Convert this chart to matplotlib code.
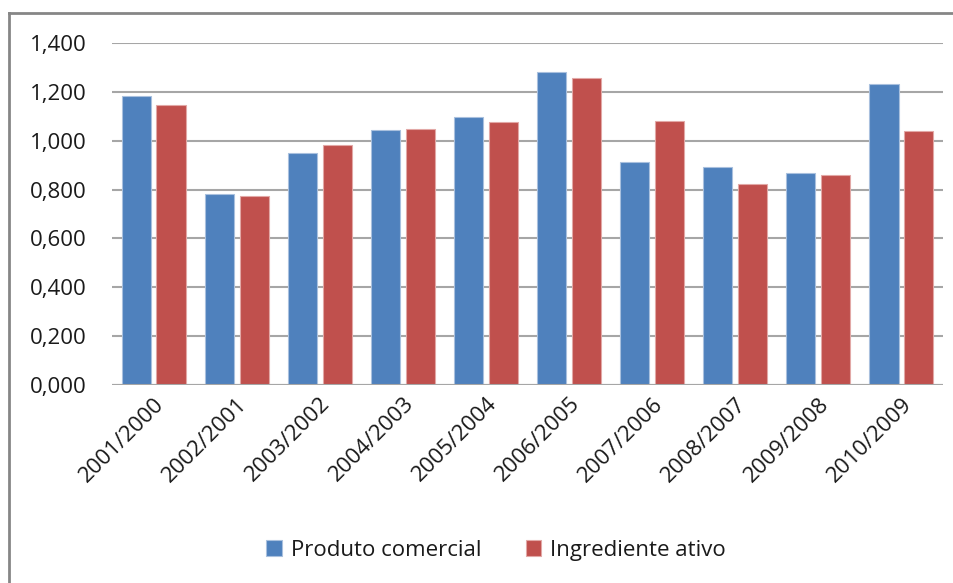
import matplotlib.pyplot as plt
import numpy as np
from matplotlib.ticker import FuncFormatter

plt.rcParams['font.family'] = ['Open Sans', 'DejaVu Sans']

periods = ['2001/2000', '2002/2001', '2003/2002', '2004/2003', '2005/2004',
           '2006/2005', '2007/2006', '2008/2007', '2009/2008', '2010/2009']
produto_comercial = [1.185, 0.781, 0.949, 1.045, 1.097, 1.281, 0.912, 0.892, 0.866, 1.234]
ingrediente_ativo = [1.148, 0.772, 0.981, 1.050, 1.076, 1.255, 1.080, 0.823, 0.860, 1.039]

fig = plt.figure(figsize=(9.54, 5.83), dpi=100)
ax = fig.add_axes([0.1174, 0.3396, 0.8711, 0.5866])

x = np.arange(len(periods))
w = 0.35
ax.bar(x - 0.21, produto_comercial, w, color='#4F81BD', edgecolor='#A9C0DE',
       linewidth=0.8, label='Produto comercial', zorder=3)
ax.bar(x + 0.21, ingrediente_ativo, w, color='#C0504D', edgecolor='#E2A8A6',
       linewidth=0.8, label='Ingrediente ativo', zorder=3)

ax.set_xlim(-0.5, len(periods) - 0.5)
ax.set_ylim(0, 1.4)
ax.set_yticks(np.arange(0, 1.401, 0.2))
ax.yaxis.set_major_formatter(FuncFormatter(lambda v, p: f'{v:.3f}'.replace('.', ',')))
ax.grid(axis='y', color='#A6A6A6', linewidth=1.5, zorder=0)
for s in ax.spines.values():
    s.set_visible(False)
ax.tick_params(axis='y', length=0, pad=18, labelsize=16, labelcolor='#1a1a1a')
ax.tick_params(axis='x', length=0, pad=6, labelsize=16, labelcolor='#1a1a1a')
ax.set_xticks(x)
ax.set_xticklabels(periods, rotation=45, ha='right', rotation_mode='anchor')
ax.axhline(0, color='#A6A6A6', linewidth=1.5, zorder=4)

# outer chart frame (top and left edges)
fig.add_artist(plt.Line2D([9 / 954, 9 / 954], [0, 1 - 13 / 583], color='#868686',
                          linewidth=2, transform=fig.transFigure))
fig.add_artist(plt.Line2D([9 / 954, 1], [1 - 13 / 583, 1 - 13 / 583], color='#868686',
                          linewidth=2, transform=fig.transFigure))

fig.legend(loc='center', bbox_to_anchor=(0.52, 0.0566), ncol=2, frameon=False,
           fontsize=16, handlelength=0.7, handleheight=0.7, handletextpad=0.4,
           columnspacing=2.0, labelcolor='#1a1a1a')

fig.savefig('out.png', dpi=100)
